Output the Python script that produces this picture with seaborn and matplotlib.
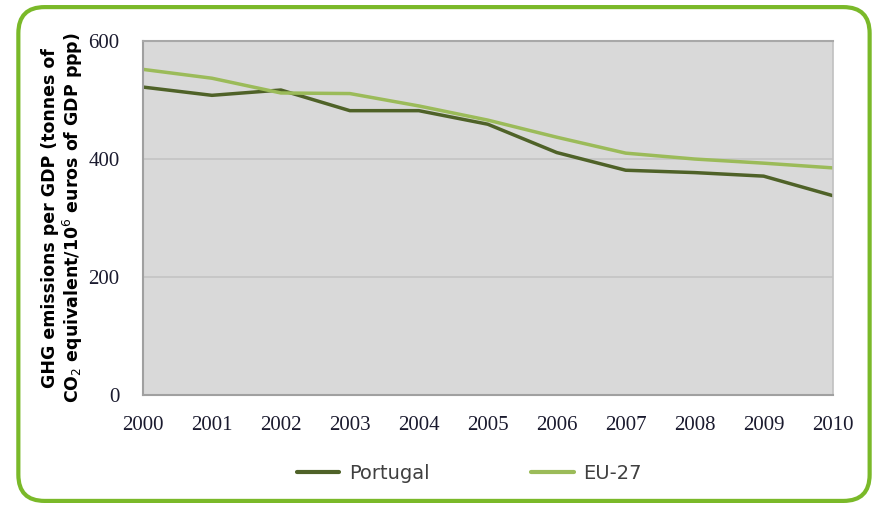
import matplotlib
matplotlib.use("Agg")
import matplotlib.pyplot as plt
import seaborn as sns
import pandas as pd
from matplotlib.patches import FancyBboxPatch
from matplotlib.lines import Line2D

years = [2000, 2001, 2002, 2003, 2004, 2005, 2006, 2007, 2008, 2009, 2010]
portugal = [522, 508, 517, 482, 482, 459, 411, 381, 377, 371, 338]
eu27 = [552, 537, 512, 511, 490, 466, 437, 410, 400, 393, 385]
series_names = ["Portugal", "EU-27"]
colors = {"Portugal": "#4f6228", "EU-27": "#9bbb59"}

df = pd.DataFrame({"year": years * 2,
                   "value": portugal + eu27,
                   "series": ["Portugal"] * len(years) + ["EU-27"] * len(years)})

sns.set_style("white")
fig = plt.figure(figsize=(8.74, 5.07), dpi=100)

# rounded green frame
frame = FancyBboxPatch((0.021, 0.012), 0.974, 0.974,
                       boxstyle="round,pad=0,rounding_size=0.03",
                       transform=fig.transFigure, facecolor="white",
                       edgecolor="#7ab929", linewidth=3, zorder=-10,
                       mutation_aspect=874/507)
fig.patches.append(frame)

ax = fig.add_axes([0.1636, 0.221, 0.789, 0.698])
ax.set_zorder(5)
ax.set_facecolor("#d9d9d9")
sns.lineplot(data=df, x="year", y="value", hue="series", palette=colors,
             hue_order=series_names, ax=ax, linewidth=2.5, legend=False)

ax.set_xlim(2000, 2010)
ax.set_ylim(0, 600)
ax.set_xticks(years)
ax.set_yticks([0, 200, 400, 600])
ax.yaxis.grid(True, color="#c4c4c4", linewidth=1.2)
ax.set_axisbelow(True)
ax.spines["right"].set_color("#c0c0c0")
ax.spines["right"].set_linewidth(1.2)
for s in ["left", "bottom"]:
    ax.spines[s].set_color("#a0a0a0")
    ax.spines[s].set_linewidth(1.5)
ax.spines["top"].set_color("#a8a8a8")
ax.spines["top"].set_linewidth(1.5)

ax.tick_params(axis="x", direction="out", length=5, color="#a0a0a0",
               labelsize=15, labelcolor="#1a1a2e", pad=10)
ax.tick_params(axis="y", direction="out", length=7, color="#c0c0c0",
               labelsize=15, labelcolor="#1a1a2e", pad=10)
for lab in ax.get_xticklabels() + ax.get_yticklabels():
    lab.set_family("Liberation Serif")

ax.set_xlabel("")
ax.set_ylabel("GHG emissions per GDP (tonnes of\nCO$_2$ equivalent/10$^6$ euros of GDP ppp)",
              fontsize=12.5, fontweight="bold", color="black", labelpad=2,
              linespacing=1.1)

handles = [Line2D([0], [0], color=colors[n], linewidth=3) for n in series_names]
leg = fig.legend(handles, series_names, loc="center", bbox_to_anchor=(0.537, 0.066),
                 ncol=2, frameon=False, fontsize=14, handlelength=2.2,
                 handletextpad=0.5, columnspacing=5.2, labelcolor="#404040")
leg.set_zorder(5)

fig.savefig("out.png", dpi=100)
